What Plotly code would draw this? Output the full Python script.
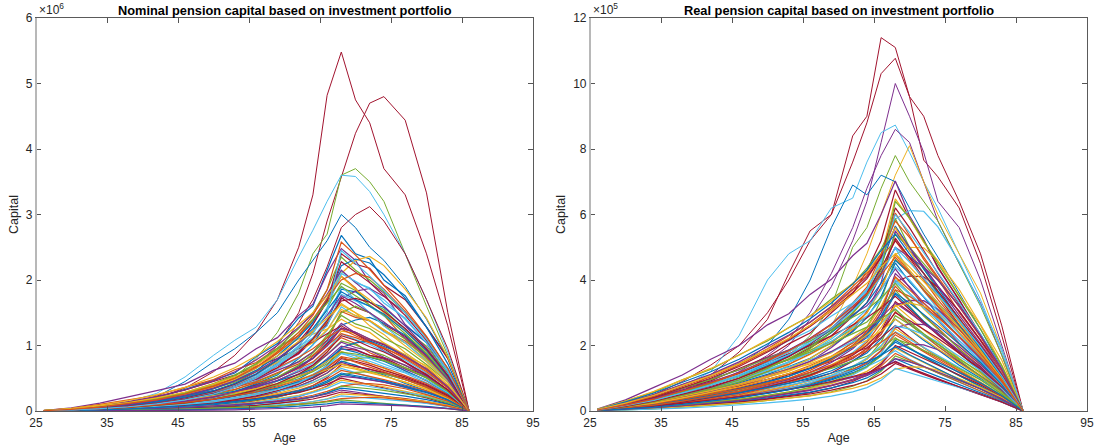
import plotly.graph_objects as go

# Age grid shared by every simulated path
AGES = [26, 30, 34, 38, 42, 46, 50, 53, 56, 59, 62, 64, 66, 68, 70, 72, 74, 77, 80, 83, 86]

# Nominal pension capital paths, in units of 10^4
NOMINAL_PATHS = [
    [0.5, 3, 7, 14, 20, 33, 47, 58, 83, 103, 142, 160, 215, 268, 240, 232, 200, 176, 128, 82, 0],
    [0.8, 5, 12, 21, 31, 41, 62, 73, 95, 112, 146, 163, 210, 248, 230, 196, 180, 132, 104, 52, 0],
    [0.3, 2, 5, 8, 13, 20, 27, 39, 50, 73, 98, 133, 168, 240, 224, 218, 192, 170, 128, 80, 0],
    [0.4, 2.5, 6, 11, 17, 26, 37, 50, 65, 88, 113, 138, 170, 210, 230, 236, 222, 186, 142, 82, 0],
    [0.4, 2.6, 7, 11, 18, 25, 38, 48, 66, 84, 115, 133, 172, 214, 196, 188, 165, 142, 104, 66, 0],
    [0.6, 4, 10, 17, 24, 36, 48, 63, 74, 96, 115, 140, 165, 206, 188, 160, 146, 110, 84, 46, 0],
    [0.4, 2.3, 6, 10, 16, 23, 34, 44, 60, 77, 104, 121, 157, 195, 184, 166, 155, 124, 99, 58, 0],
    [0.2, 1.5, 4, 6.5, 10, 15, 23, 29, 42, 55, 80, 101, 137, 186, 182, 166, 158, 130, 105, 60, 0],
    [0.3, 2, 5, 8.5, 14, 20, 29, 40, 50, 69, 87, 108, 132, 171, 183, 187, 175, 150, 113, 64, 0],
    [0.3, 2.1, 5, 9, 13, 21, 28, 41, 51, 70, 88, 110, 134, 173, 158, 150, 132, 114, 85, 53, 0],
    [0.5, 3.2, 8, 13, 20, 27, 41, 48, 62, 75, 96, 108, 137, 164, 150, 130, 117, 89, 67, 37, 0],
    [0.3, 1.9, 5, 8, 12, 19, 27, 37, 46, 64, 81, 101, 123, 159, 145, 137, 121, 104, 78, 48, 0],
    [0.2, 1.2, 3, 5.3, 8, 12, 18, 25, 32, 46, 62, 84, 107, 152, 143, 138, 123, 107, 82, 51, 0],
    [0.3, 1.8, 4.3, 7, 12, 17, 25, 32, 44, 57, 76, 90, 116, 146, 133, 126, 111, 95, 71, 44, 0],
    [0.3, 1.6, 4, 6.5, 10, 16, 22, 30, 40, 51, 69, 81, 104, 131, 139, 143, 134, 116, 87, 49, 0],
    [0.4, 2.6, 6.5, 11, 16, 23, 31, 41, 48, 62, 75, 90, 108, 134, 119, 107, 92, 74, 52, 30, 0],
    [0.3, 1.5, 3.8, 6.3, 10, 15, 22, 29, 39, 50, 67, 80, 102, 127, 120, 109, 101, 82, 65, 38, 0],
    [0.1, 1, 2.5, 4.3, 7, 10, 15, 20, 27, 36, 53, 67, 90, 122, 119, 110, 103, 85, 69, 40, 0],
    [0.2, 1.4, 3.5, 6, 9.5, 14, 20, 27, 36, 46, 62, 73, 94, 118, 109, 102, 91, 78, 58, 36, 0],
    [0.3, 2.2, 5.6, 9, 14, 19, 27, 33, 43, 51, 65, 75, 94, 112, 103, 89, 80, 61, 46, 25, 0],
    [0.2, 1.3, 3.2, 5.4, 8.6, 13, 18, 25, 33, 42, 57, 67, 86, 107, 101, 92, 85, 69, 55, 32, 0],
    [0.2, 1.2, 2.9, 4.8, 7.7, 11, 16, 22, 29, 39, 49, 61, 75, 97, 104, 107, 99, 86, 63, 37, 0],
    [0.2, 1.2, 3, 5, 8, 12, 17, 23, 31, 39, 53, 62, 80, 99, 94, 85, 79, 64, 51, 30, 0],
    [0.1, 0.8, 2, 3.4, 5.3, 7.7, 12, 15, 21, 29, 41, 52, 70, 95, 93, 85, 81, 66, 54, 31, 0],
    [0.3, 1.8, 4.6, 7.4, 11, 16, 22, 27, 35, 41, 53, 61, 76, 91, 84, 73, 65, 50, 38, 20, 0],
    [0.2, 1.1, 2.6, 4.4, 7, 10.6, 15, 20, 27, 34, 46, 56, 69, 88, 81, 76, 68, 58, 43, 27, 0],
    [0.2, 1, 2.5, 4.2, 6.7, 10, 14, 19, 25, 34, 44, 52, 67, 83, 79, 72, 66, 54, 42, 25, 0],
    [0.15, 0.9, 2.2, 3.7, 5.9, 8.9, 13, 17, 22, 30, 38, 47, 58, 75, 80, 82, 77, 66, 50, 29, 0],
    [0.2, 1.5, 3.9, 6.2, 9.2, 13, 18, 23, 29, 35, 44, 51, 64, 76, 70, 61, 55, 42, 31, 17, 0],
    [0.15, 0.9, 2.2, 3.7, 6, 9, 12.5, 17, 22, 30, 38, 47, 58, 74, 68, 64, 57, 48, 37, 22, 0],
    [0.07, 0.6, 1.4, 2.5, 3.9, 5.7, 8.5, 11, 16, 21, 30, 39, 51, 71, 68, 63, 59, 50, 39, 23, 0],
    [0.14, 0.8, 2, 3.4, 5.4, 8.2, 12, 15.6, 20, 27, 35, 43, 54, 68, 64, 58, 53, 44, 34, 20, 0],
    [0.2, 1.3, 3.3, 5.2, 7.8, 11, 16, 19.5, 24, 30, 37, 44, 53, 65, 58, 52, 46, 36, 26, 14, 0],
    [0.12, 0.7, 1.9, 3.1, 5, 7.4, 10.5, 14, 18.6, 25, 32, 39, 49, 62, 58, 53, 48, 40, 31, 19, 0],
    [0.1, 0.7, 1.6, 2.75, 4.4, 6.6, 9.4, 12.6, 16.5, 22, 28.6, 34.6, 43.5, 55, 59, 60, 57, 48, 36, 21, 0],
    [0.11, 0.7, 1.7, 2.8, 4.5, 6.7, 9.5, 13, 17, 22, 29, 35, 44, 56, 52, 48, 44, 36, 28, 17, 0],
    [0.05, 0.4, 1.1, 1.9, 2.9, 4.2, 6.4, 8.5, 11.7, 16, 22, 29, 38, 53, 51, 48, 44, 37, 29, 17.5, 0],
    [0.15, 1, 2.4, 4.1, 6, 8.6, 12, 15, 19, 23, 28, 34, 41, 50, 45, 40, 35, 27, 20, 11, 0],
    [0.1, 0.6, 1.4, 2.3, 3.8, 5.7, 8, 10.6, 14, 19, 24, 30, 37, 47, 44, 40, 37, 30, 23.5, 14, 0],
    [0.09, 0.5, 1.3, 2.2, 3.5, 5.2, 7.6, 10, 13, 17.8, 22.6, 28, 34.5, 44, 41, 38, 34, 29, 22, 13, 0],
    [0.08, 0.46, 1.1, 1.9, 3, 4.6, 6.5, 8.7, 11.4, 15.2, 19.8, 24, 30, 38, 41, 42, 40, 34, 25, 15, 0],
    [0.04, 0.3, 0.8, 1.3, 2.1, 3, 4.6, 6.1, 8.4, 11.4, 16, 21, 27, 38, 36.5, 34, 31.5, 26.6, 21, 12.5, 0],
    [0.07, 0.42, 1, 1.75, 2.8, 4.2, 6, 8, 10.5, 14, 18.2, 22, 27.6, 35, 32.5, 30, 27.3, 22.8, 17.5, 10.5, 0],
    [0.1, 0.64, 1.6, 2.6, 3.8, 5.4, 7.7, 9.6, 11.8, 14.7, 18.2, 21.4, 26, 32, 29, 25.6, 22.4, 17.6, 12.8, 7, 0],
    [0.06, 0.35, 0.87, 1.45, 2.3, 3.5, 4.9, 6.7, 8.7, 11.6, 15, 18.3, 23, 29, 27, 25, 22.6, 18.9, 14.5, 8.7, 0],
    [0.03, 0.2, 0.5, 0.9, 1.4, 2.1, 3.1, 4.2, 5.7, 7.8, 10.9, 14.3, 18.7, 26, 25, 23.4, 21.6, 18.2, 14.3, 8.6, 0],
    [0.05, 0.28, 0.7, 1.15, 1.8, 2.8, 3.9, 5.3, 6.9, 9.2, 12, 14.5, 18, 23, 21.4, 19.8, 18, 15, 11.5, 6.9, 0],
    [0.04, 0.23, 0.57, 0.95, 1.5, 2.3, 3.2, 4.4, 5.7, 7.6, 9.9, 12, 15, 19, 20, 21, 20, 17, 13, 7.5, 0],
    [0.05, 0.34, 0.85, 1.36, 2, 2.9, 4.1, 5.1, 6.3, 7.8, 9.7, 11.4, 13.9, 17, 15.3, 13.6, 11.9, 9.4, 6.8, 3.7, 0],
    [0.03, 0.17, 0.42, 0.7, 1.1, 1.7, 2.4, 3.2, 4.2, 5.6, 7.3, 8.8, 11, 14, 13, 12, 10.9, 9.1, 7, 4.2, 0],
    [0.01, 0.09, 0.22, 0.4, 0.6, 0.9, 1.3, 1.8, 2.4, 3.3, 4.6, 6, 7.9, 11, 10.6, 9.9, 9.1, 7.7, 6, 3.6, 0],
    [0.5, 3, 8, 14, 22, 32, 45, 55, 68, 80, 95, 105, 118, 130, 118, 105, 95, 75, 55, 32, 0],
    [0.3, 2, 5, 9, 15, 24, 36, 50, 70, 92, 110, 118, 125, 140, 128, 120, 104, 86, 64, 38, 0],
    [0.2, 1.5, 4, 7, 12, 18, 28, 40, 55, 75, 98, 112, 130, 178, 168, 160, 145, 125, 95, 55, 0],
    [0.4, 2.5, 6, 10, 16, 22, 30, 36, 45, 58, 72, 85, 100, 118, 112, 104, 96, 82, 62, 36, 0],
    [0.2, 1.2, 3, 5.5, 9, 14, 21, 28, 38, 52, 70, 88, 112, 150, 160, 150, 130, 110, 80, 46, 0],
    [0.3, 1.8, 4.5, 8, 12, 17, 24, 30, 38, 46, 56, 64, 78, 95, 90, 82, 76, 62, 47, 27, 0],
    [0.2, 1.4, 3.5, 6, 10, 15, 21, 28, 36, 47, 60, 70, 86, 105, 97, 92, 82, 70, 53, 31, 0],
    [0.1, 0.8, 2, 3.5, 6, 9, 13, 17, 23, 31, 42, 50, 62, 80, 76, 70, 62, 52, 40, 24, 0],
    [0.3, 2, 5, 8, 12, 17, 23, 28, 34, 40, 48, 55, 63, 72, 66, 60, 53, 44, 33, 19, 0],
    [0.2, 1, 2.5, 4.5, 7, 10, 14, 19, 25, 33, 43, 54, 68, 88, 85, 80, 72, 60, 47, 28, 0],
    [0.4, 2.2, 5.5, 9, 14, 21, 30, 40, 52, 66, 82, 95, 112, 125, 115, 105, 97, 80, 60, 35, 0],
    [0.2, 1.2, 3, 5, 8, 12, 18, 24, 31, 40, 52, 60, 72, 90, 87, 83, 77, 66, 51, 30, 0],
    [0.1, 0.7, 1.8, 3.2, 5, 7.5, 11, 14, 18, 24, 31, 37, 46, 58, 54, 50, 46, 38, 29, 17, 0],
    [0.3, 1.6, 4, 6.5, 10, 15, 22, 29, 38, 50, 66, 80, 99, 126, 120, 110, 102, 84, 64, 37, 0],
    [0.2, 1.3, 3.3, 5.5, 8.5, 12.5, 18, 24, 32, 42, 56, 70, 90, 115, 108, 98, 90, 74, 56, 32, 0],
    [0.5, 3, 7, 12, 18, 27, 38, 48, 60, 74, 92, 104, 124, 155, 146, 138, 124, 104, 78, 46, 0],
    [0.3, 2, 5, 9, 14, 20, 30, 40, 54, 70, 92, 112, 140, 190, 170, 150, 130, 104, 76, 44, 0],
    [0.2, 1.5, 3.5, 6, 9, 13, 18, 23, 29, 37, 47, 55, 66, 82, 74, 67, 60, 48, 36, 21, 0],
    [0.4, 2.5, 6, 11, 18, 27, 40, 54, 72, 96, 126, 150, 185, 235, 215, 200, 182, 150, 112, 64, 0],
    [0.3, 2, 5, 9, 15, 23, 34, 46, 62, 84, 112, 136, 170, 222, 232, 226, 208, 172, 128, 72, 0],
    [0.5, 3.5, 8, 14, 22, 32, 46, 60, 78, 100, 128, 148, 178, 215, 196, 178, 160, 130, 96, 55, 0],
    [0.3, 1.8, 4.5, 8, 13, 20, 30, 41, 56, 78, 106, 132, 168, 228, 212, 196, 176, 146, 108, 62, 0],
    [0.6, 4, 9, 16, 25, 36, 52, 66, 84, 106, 132, 150, 176, 205, 186, 170, 150, 122, 90, 50, 0],
    [0.2, 1.5, 4, 7, 12, 18, 27, 37, 52, 72, 100, 124, 158, 210, 198, 186, 170, 140, 104, 60, 0],
    [0.4, 2.6, 6.5, 11, 17, 26, 38, 50, 66, 88, 116, 140, 172, 200, 210, 204, 186, 152, 112, 63, 0],
    [0.5, 3, 7, 12, 19, 28, 42, 55, 72, 94, 120, 140, 165, 190, 176, 162, 146, 118, 88, 50, 0],
    [0.3, 2, 5, 9, 14, 21, 31, 42, 57, 78, 104, 126, 154, 182, 170, 160, 148, 122, 92, 52, 0],
    [0.4, 2.4, 6, 10, 16, 24, 35, 46, 60, 80, 104, 122, 146, 176, 164, 150, 136, 112, 84, 48, 0],
    [0.3, 1.7, 4.2, 7.5, 12, 18, 27, 36, 49, 66, 90, 110, 138, 168, 172, 166, 152, 126, 94, 54, 0],
    [0.5, 3.2, 8, 13, 20, 29, 41, 52, 66, 84, 106, 122, 142, 162, 150, 138, 124, 100, 75, 43, 0],
    [0.2, 1.4, 3.5, 6.5, 11, 17, 26, 36, 50, 70, 96, 118, 150, 245, 226, 206, 184, 150, 110, 62, 0],
    [0.4, 2.5, 6, 11, 17, 26, 38, 50, 67, 90, 120, 146, 185, 258, 238, 216, 192, 156, 114, 65, 0],
]

# The few extreme nominal paths, in units of 10^4
NOMINAL_EXTREME = [
    [0.3, 2, 5, 11, 20, 35, 60, 85, 120, 170, 250, 330, 482, 548, 475, 440, 370, 330, 240, 130, 0],
    [0.2, 1.5, 4, 8, 14, 22, 34, 50, 70, 100, 150, 210, 290, 357, 424, 470, 480, 444, 333, 150, 0],
    [0.2, 1, 3, 6, 12, 22, 35, 52, 80, 120, 180, 240, 270, 360, 370, 350, 320, 240, 160, 85, 0],
    [0.5, 3, 7, 14, 27, 52, 85, 108, 128, 170, 235, 276, 320, 360, 358, 335, 300, 240, 170, 90, 0],
    [0.4, 2.5, 6, 12, 22, 45, 75, 95, 120, 150, 200, 230, 260, 300, 280, 250, 230, 190, 140, 80, 0],
    [0.2, 1, 3, 6, 11, 18, 30, 42, 60, 90, 135, 170, 220, 280, 300, 312, 290, 240, 170, 95, 0],
]
NOMINAL_EXTREME_COLORS = ["#A2142F", "#A2142F", "#77AC30", "#4DBEEE", "#0072BD", "#A2142F"]

# Real (inflation adjusted) pension capital paths, in units of 10^3
REAL_PATHS = [
    [6, 34, 72, 110, 158, 200, 263, 297, 356, 402, 474, 512, 600, 702, 596, 524, 436, 340, 228, 128, 0],
    [3, 21, 39, 69, 92, 130, 165, 205, 238, 300, 358, 428, 520, 675, 588, 520, 440, 338, 232, 130, 0],
    [2, 13, 27, 44, 66, 90, 126, 148, 185, 225, 296, 352, 472, 648, 588, 515, 458, 352, 262, 140, 0],
    [3, 17, 36, 57, 83, 110, 148, 172, 213, 254, 318, 366, 462, 586, 612, 610, 562, 455, 325, 190, 0],
    [3, 18, 37, 60, 86, 114, 153, 180, 221, 264, 330, 378, 476, 604, 536, 463, 404, 300, 214, 114, 0],
    [4.7, 30, 57, 95, 127, 172, 214, 255, 290, 342, 388, 436, 494, 588, 500, 436, 366, 284, 190, 107, 0],
    [2.8, 17, 35, 56, 80, 107, 143, 168, 206, 247, 309, 354, 444, 565, 500, 433, 376, 280, 200, 107, 0],
    [1.6, 11, 22, 39, 54, 78, 103, 128, 151, 194, 245, 304, 392, 550, 490, 441, 381, 304, 216, 122, 0],
    [2.7, 16, 33, 52, 75, 100, 134, 157, 193, 230, 289, 331, 416, 528, 468, 405, 352, 263, 188, 100, 0],
    [2.6, 14, 29, 47, 67, 90, 120, 142, 173, 208, 258, 300, 377, 478, 500, 498, 458, 371, 264, 155, 0],
    [4, 25, 49, 80, 108, 146, 181, 215, 246, 290, 330, 369, 420, 498, 425, 369, 310, 240, 162, 90, 0],
    [2.4, 14, 29, 47, 68, 90, 121, 143, 175, 209, 262, 300, 377, 478, 424, 367, 319, 238, 170, 90, 0],
    [1.4, 9, 19, 32, 47, 64, 89, 106, 132, 161, 211, 253, 338, 463, 420, 370, 328, 254, 188, 101, 0],
    [2.2, 13.5, 27, 45, 63, 86, 112, 136, 161, 199, 242, 285, 350, 452, 394, 348, 295, 227, 156, 86, 0],
    [3.5, 22, 44, 69, 97, 125, 163, 186, 220, 251, 294, 321, 372, 434, 377, 321, 277, 207, 145, 78, 0],
    [2, 11, 22, 37, 51, 70, 91, 111, 130, 162, 195, 233, 285, 394, 412, 410, 378, 305, 218, 128, 0],
    [2, 12, 25, 40, 58, 77, 103, 121, 148, 178, 222, 255, 320, 407, 360, 312, 270, 203, 144, 77, 0],
    [1.2, 8, 16, 27, 40, 55, 76, 90, 112, 137, 179, 215, 286, 394, 357, 314, 278, 215, 160, 86, 0],
    [1.9, 11.5, 23, 38, 54, 72, 96, 114, 139, 167, 208, 239, 300, 381, 337, 292, 254, 190, 135, 72, 0],
    [3, 18.5, 37, 59, 82, 106, 138, 158, 186, 213, 250, 272, 316, 369, 320, 272, 235, 176, 123, 66, 0],
    [1.8, 10.7, 21, 36, 50, 68, 90, 106, 130, 156, 195, 224, 281, 357, 316, 274, 238, 178, 126, 68, 0],
    [1.6, 9, 18, 30, 42, 57, 75, 91, 107, 133, 160, 191, 234, 323, 338, 337, 310, 250, 179, 104, 0],
    [1, 6.7, 13.5, 23, 34, 47, 64, 76, 95, 116, 152, 183, 243, 334, 303, 266, 236, 183, 135, 73, 0],
    [1.6, 9.7, 19.5, 32, 46, 61, 82, 96, 118, 141, 176, 203, 255, 323, 286, 248, 215, 161, 114, 61, 0],
    [2.5, 15.6, 31, 50, 69, 90, 117, 134, 157, 180, 211, 230, 267, 312, 270, 230, 198, 149, 104, 56, 0],
    [1.5, 9, 18, 30, 42, 58, 75, 91, 108, 134, 162, 191, 234, 303, 265, 233, 198, 152, 105, 57, 0],
    [0.9, 5.8, 11.7, 20, 29, 41, 56, 66, 83, 101, 132, 159, 211, 291, 264, 232, 205, 159, 118, 64, 0],
    [1.4, 8.5, 17, 28, 40, 53, 71, 84, 102, 123, 153, 177, 221, 281, 249, 216, 187, 140, 100, 53, 0],
    [1.3, 7, 14, 23.5, 33, 45, 59, 71, 85, 104, 127, 149, 185, 254, 266, 264, 244, 197, 141, 82, 0],
    [2, 13, 26, 42, 58, 76, 97, 113, 131, 151, 176, 193, 224, 261, 226, 193, 166, 125, 87, 47, 0],
    [1.3, 7.6, 15, 25, 35, 48, 63, 76, 91, 110, 137, 158, 197, 251, 223, 193, 167, 126, 88, 48, 0],
    [0.7, 4.9, 9.7, 17, 24, 34, 46, 56, 68, 85, 110, 133, 176, 242, 219, 194, 171, 133, 97, 53, 0],
    [1.2, 7, 14, 23, 33, 44, 59, 70, 85, 102, 127, 146, 183, 233, 207, 180, 155, 117, 82, 44, 0],
    [1.8, 11, 22.5, 36, 50, 65, 83, 97, 113, 130, 151, 167, 191, 224, 194, 166, 142, 108, 74, 40, 0],
    [1.1, 6.5, 13, 21.6, 30, 41, 54, 65, 78, 95, 117, 136, 169, 216, 190, 166, 143, 108, 76, 41, 0],
    [1, 5.4, 10.8, 18, 25, 34, 45, 54, 65, 79, 97, 114, 141, 194, 204, 202, 187, 150, 108, 62, 0],
    [0.6, 4, 8, 14, 20, 28, 38, 46, 56, 70, 90, 110, 144, 200, 180, 160, 140, 110, 80, 44, 0],
    [1, 5.8, 11.5, 19, 27, 36.5, 48, 57.6, 69, 84.5, 104, 121, 150, 192, 169, 148, 127, 96, 67, 36.5, 0],
    [1.5, 9.2, 18.4, 29.4, 40.5, 53.4, 68, 79, 92, 107, 123, 136, 156, 184, 158, 136, 116, 88, 61, 33, 0],
    [0.9, 5.3, 10.6, 17.6, 24.6, 33.4, 44, 52.8, 63.4, 77.4, 95, 111, 137, 176, 155, 135.5, 116, 88, 61.6, 33.4, 0],
    [0.5, 3.4, 6.7, 11.8, 16.8, 23.5, 32, 38.6, 47, 58.8, 75.6, 92.4, 121, 168, 151, 134, 117.6, 92.4, 67, 37, 0],
    [0.8, 4.8, 9.6, 16, 22.4, 30.4, 40, 48, 57.6, 70.4, 86.4, 101, 125, 160, 141, 123, 105.6, 80, 56, 30.4, 0],
    [1.2, 7.6, 15.2, 24.3, 33.4, 44, 56, 65, 76, 88, 102, 112.5, 129, 152, 131, 112.5, 96, 73, 50, 27, 0],
    [0.7, 4.4, 8.7, 14.5, 20.3, 27.5, 36, 43.5, 52, 64, 78, 91, 113, 145, 127.6, 111.6, 95.7, 72.5, 50.7, 27.5, 0],
    [0.7, 3.9, 7.7, 12.8, 18, 24.4, 32, 38.6, 46, 56.6, 69, 81.4, 100.7, 128, 135, 134, 124, 99, 72, 41, 0],
    [0.4, 2.6, 5.2, 9, 13, 18, 24.7, 30, 36.4, 45.5, 58.5, 71.5, 93.6, 130, 117, 104, 91, 71.5, 52, 28.6, 0],
    [4, 26, 50, 80, 110, 145, 190, 230, 270, 320, 380, 420, 470, 520, 460, 400, 340, 262, 185, 100, 0],
    [2, 12, 26, 44, 64, 88, 120, 150, 190, 240, 300, 350, 420, 540, 500, 450, 400, 320, 230, 125, 0],
    [3, 18, 36, 58, 80, 106, 140, 168, 200, 240, 290, 330, 390, 460, 420, 380, 330, 260, 180, 96, 0],
    [1.5, 9, 18, 30, 44, 60, 80, 96, 118, 148, 190, 230, 300, 420, 380, 330, 290, 225, 160, 88, 0],
    [3, 20, 40, 64, 88, 116, 150, 175, 200, 230, 262, 285, 315, 350, 310, 270, 232, 178, 124, 66, 0],
    [2, 12, 24, 40, 58, 80, 108, 130, 160, 200, 250, 300, 370, 480, 440, 396, 350, 280, 200, 110, 0],
    [2.5, 15, 30, 50, 70, 94, 124, 148, 178, 212, 255, 290, 340, 400, 360, 320, 280, 215, 152, 82, 0],
    [1, 7, 14, 24, 36, 50, 70, 86, 108, 136, 174, 210, 270, 370, 350, 320, 285, 228, 166, 92, 0],
    [3.5, 22, 44, 70, 96, 126, 160, 186, 214, 248, 286, 310, 345, 390, 340, 290, 250, 190, 132, 70, 0],
    [1.5, 10, 20, 33, 48, 66, 88, 106, 130, 160, 200, 236, 290, 360, 330, 296, 260, 205, 148, 80, 0],
    [2, 13, 26, 42, 60, 82, 108, 128, 152, 182, 218, 246, 285, 330, 300, 268, 236, 184, 132, 72, 0],
    [1.2, 8, 16, 27, 40, 55, 74, 90, 110, 136, 170, 200, 244, 300, 276, 250, 222, 176, 128, 70, 0],
    [2.2, 14, 28, 45, 62, 82, 106, 124, 144, 168, 196, 216, 244, 280, 250, 220, 190, 146, 104, 56, 0],
    [1, 6, 12, 20, 30, 42, 58, 70, 86, 108, 136, 162, 200, 260, 250, 234, 210, 168, 124, 68, 0],
    [1.8, 11, 22, 36, 50, 66, 86, 100, 118, 140, 165, 184, 210, 240, 212, 184, 160, 122, 86, 46, 0],
    [0.8, 5, 10, 17, 25, 35, 48, 58, 72, 90, 114, 136, 168, 220, 205, 186, 165, 130, 95, 52, 0],
    [1.5, 9, 18, 30, 42, 56, 72, 84, 98, 116, 136, 150, 170, 196, 172, 150, 128, 96, 67, 36, 0],
    [0.8, 5, 10, 16, 23, 32, 43, 52, 63, 77, 94, 108, 128, 160, 150, 136, 120, 94, 68, 37, 0],
    [1.2, 7, 14, 23, 32, 43, 56, 66, 77, 90, 106, 116, 132, 150, 132, 115, 98, 74, 52, 28, 0],
    [2, 12, 24, 40, 56, 74, 96, 114, 136, 164, 200, 232, 270, 320, 330, 320, 300, 240, 172, 95, 0],
    [2.5, 16, 32, 52, 72, 96, 126, 150, 180, 220, 270, 310, 370, 440, 400, 350, 305, 235, 165, 88, 0],
    [1.5, 9, 18, 30, 44, 60, 82, 100, 124, 156, 200, 244, 310, 410, 370, 330, 290, 228, 164, 90, 0],
    [3, 18, 36, 58, 80, 104, 134, 156, 180, 206, 236, 256, 282, 310, 272, 236, 204, 156, 108, 58, 0],
    [1, 6, 12, 20, 29, 40, 54, 65, 80, 98, 122, 142, 172, 210, 190, 170, 150, 118, 86, 47, 0],
    [4, 25, 50, 80, 112, 150, 196, 232, 272, 318, 372, 410, 468, 560, 500, 440, 380, 292, 205, 112, 0],
    [3, 20, 42, 70, 100, 136, 180, 216, 258, 306, 362, 404, 470, 620, 560, 490, 420, 326, 230, 126, 0],
    [5, 30, 60, 95, 130, 170, 218, 252, 290, 336, 390, 426, 480, 560, 490, 420, 356, 270, 186, 100, 0],
    [2.5, 16, 33, 55, 80, 110, 148, 180, 218, 266, 326, 372, 450, 600, 545, 484, 420, 330, 236, 130, 0],
    [3.5, 22, 45, 74, 104, 140, 184, 220, 262, 312, 370, 414, 480, 580, 530, 470, 408, 318, 226, 124, 0],
    [2, 13, 28, 47, 68, 95, 130, 160, 196, 242, 300, 348, 430, 640, 590, 520, 450, 350, 250, 138, 0],
    [4.5, 28, 55, 88, 120, 158, 204, 240, 282, 330, 388, 430, 490, 540, 480, 420, 360, 276, 192, 104, 0],
    [3, 19, 38, 62, 88, 118, 156, 186, 222, 266, 320, 360, 420, 500, 470, 440, 400, 320, 230, 128, 0],
    [2, 14, 30, 50, 72, 100, 136, 166, 204, 252, 312, 360, 436, 520, 470, 420, 366, 284, 200, 110, 0],
    [4, 24, 48, 78, 108, 144, 188, 222, 262, 306, 356, 390, 440, 480, 430, 380, 330, 255, 180, 98, 0],
    [2.5, 16, 32, 54, 78, 106, 142, 172, 208, 252, 306, 348, 410, 500, 455, 405, 355, 276, 196, 107, 0],
    [3, 18, 36, 60, 86, 116, 154, 184, 220, 264, 318, 358, 416, 470, 420, 370, 320, 248, 175, 95, 0],
]

# The few extreme real paths, in units of 10^3
REAL_EXTREME = [
    [3, 20, 50, 90, 140, 200, 300, 400, 520, 600, 840, 900, 1140, 1110, 960, 766, 715, 620, 450, 230, 0],
    [2, 12, 30, 60, 110, 180, 280, 420, 550, 600, 760, 880, 1030, 1077, 960, 900, 780, 640, 480, 260, 0],
    [2, 10, 25, 45, 70, 100, 150, 200, 280, 380, 520, 640, 820, 1000, 900, 790, 640, 560, 400, 200, 0],
    [3, 18, 42, 75, 120, 230, 400, 480, 520, 620, 650, 760, 850, 873, 790, 700, 620, 480, 340, 180, 0],
    [2, 12, 28, 50, 80, 120, 170, 220, 300, 420, 560, 680, 780, 860, 820, 700, 580, 450, 330, 170, 0],
    [1.5, 9, 20, 35, 55, 80, 110, 140, 190, 260, 380, 480, 600, 720, 810, 700, 600, 480, 360, 190, 0],
    [2, 11, 24, 42, 65, 95, 130, 170, 230, 320, 500, 560, 680, 780, 700, 640, 580, 450, 320, 170, 0],
    [2, 14, 34, 60, 95, 140, 200, 280, 400, 560, 690, 660, 720, 700, 620, 540, 470, 360, 250, 130, 0],
]
REAL_EXTREME_COLORS = ["#A2142F", "#A2142F", "#7E2F8E", "#4DBEEE", "#7E2F8E", "#EDB120", "#77AC30", "#0072BD"]

# Default line colour order
COLOR_ORDER = ["#0072BD", "#D95319", "#EDB120", "#7E2F8E", "#77AC30", "#4DBEEE", "#A2142F"]

X_TICKS = [25, 35, 45, 55, 65, 75, 85, 95]
NOMINAL_Y_TICKS = [0, 1, 2, 3, 4, 5, 6]
REAL_Y_TICKS = [0, 2, 4, 6, 8, 10, 12]

for name, group in [("nominal", NOMINAL_PATHS), ("nominal extreme", NOMINAL_EXTREME),
                    ("real", REAL_PATHS), ("real extreme", REAL_EXTREME)]:
    for i, row in enumerate(group):
        assert len(row) == len(AGES), f"{name} row {i} has {len(row)} values"

W, H = 1106, 448
FONT = "Liberation Sans, Arial, Helvetica, sans-serif"
TEXT = "#262626"
BOX = "#5a5a5a"

fig = go.Figure()


def add_paths(paths, colors, xa, ya, scale, width):
    for row, color in zip(paths, colors):
        fig.add_trace(go.Scatter(
            x=AGES, y=[v / scale for v in row], mode="lines",
            line=dict(color=color, width=width), xaxis=xa, yaxis=ya,
            hoverinfo="skip", showlegend=False,
        ))


def cycled(n, offset=0):
    return [COLOR_ORDER[(i * 3 + offset) % len(COLOR_ORDER)] for i in range(n)]


# nominal capital is shown in units of 10^6, real capital in units of 10^5
add_paths(NOMINAL_EXTREME, NOMINAL_EXTREME_COLORS, "x", "y", 100, 1.0)
add_paths(NOMINAL_PATHS, cycled(len(NOMINAL_PATHS)), "x", "y", 100, 1.2)
add_paths(REAL_EXTREME, REAL_EXTREME_COLORS, "x2", "y2", 100, 1.0)
add_paths(REAL_PATHS, cycled(len(REAL_PATHS), 3), "x2", "y2", 100, 1.2)

# plot-area placement in pixels
L1, R1 = 36, 533
L2, R2 = 590, 1087
TOP, BOT = 18, 411
ydom = [(H - BOT) / H, (H - TOP) / H]

tick_font = dict(family=FONT, size=12, color=TEXT)
title_font = dict(family=FONT, size=12.5, color=TEXT)
common = dict(showgrid=False, zeroline=False, fixedrange=True, automargin=False,
              ticks="inside", ticklen=5, tickwidth=1, tickcolor="#555555",
              showline=True, linecolor=BOX, linewidth=1.2, mirror="ticks",
              tickfont=tick_font)

fig.update_layout(
    width=W, height=H, autosize=False,
    margin=dict(l=0, r=0, t=0, b=0, pad=0),
    paper_bgcolor="white", plot_bgcolor="white",
    xaxis=dict(domain=[L1 / W, R1 / W], range=[25, 95], tickvals=X_TICKS, anchor="y",
               title=dict(text="Age", font=title_font, standoff=4), **common),
    yaxis=dict(domain=ydom, range=[0, 6], tickvals=NOMINAL_Y_TICKS, anchor="x",
               title=dict(text="Capital", font=title_font, standoff=4), **common),
    xaxis2=dict(domain=[L2 / W, R2 / W], range=[25, 95], tickvals=X_TICKS, anchor="y2",
                title=dict(text="Age", font=title_font, standoff=4), **common),
    yaxis2=dict(domain=ydom, range=[0, 12], tickvals=REAL_Y_TICKS, anchor="x2",
                title=dict(text="Capital", font=title_font, standoff=4), **common),
)

# lighter left edge of each axes box
for xr, yr in [("x", "y"), ("x2", "y2")]:
    fig.add_shape(type="line", xref=f"{xr} domain", yref=f"{yr} domain",
                  x0=0, x1=0, y0=0, y1=1, line=dict(color="#b8b8b8", width=2), layer="above")


def px(x, y):
    return x / W, (H - y) / H


def note(text, x, y, size=12, bold=False, xanchor="center", color=TEXT):
    xp, yp = px(x, y)
    fig.add_annotation(
        text=f"<b>{text}</b>" if bold else text, x=xp, y=yp,
        xref="paper", yref="paper", showarrow=False,
        xanchor=xanchor, yanchor="middle",
        font=dict(family=FONT, size=size, color=color),
    )


note("Nominal pension capital based on investment portfolio", (L1 + R1) / 2, 10,
     size=12.8, bold=True, color="black")
note("Real pension capital based on investment portfolio", (L2 + R2) / 2, 10,
     size=12.8, bold=True, color="black")
note("×10<sup>6</sup>", L1 + 1, 9, size=12, xanchor="left")
note("×10<sup>5</sup>", L2 + 1, 9, size=12, xanchor="left")

fig.write_html("out.html")
